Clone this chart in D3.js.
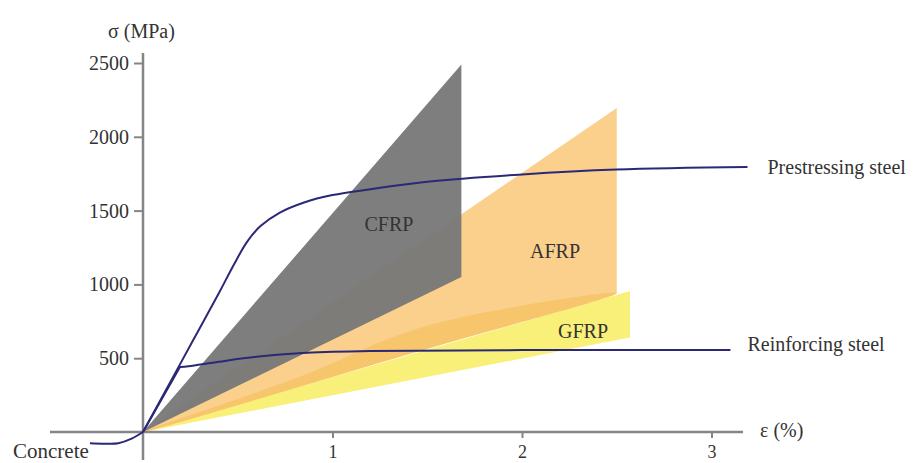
<!DOCTYPE html>
<html>
<head>
<meta charset="utf-8">
<script src="https://cdn.jsdelivr.net/npm/d3@7"></script>
<style>
  html, body { margin: 0; padding: 0; background: #fff; }
  svg { display: block; }
  text { font-family: "Liberation Serif", "DejaVu Serif", serif; fill: #333; }
</style>
</head>
<body>
<svg id="chart"></svg>
<script>
const width = 924;
const height = 463;

// strain (%), stress (MPa)
const prestressing = [[0, 0], [0.2, 470], [0.3, 705], [0.4, 940], [0.48, 1135], [0.55, 1290], [0.62, 1395],
  [0.72, 1485], [0.85, 1555], [1.0, 1605], [1.2, 1645], [1.5, 1695], [2.0, 1745], [2.5, 1778], [3.19, 1795]];
const reinforcing = [[0, 0], [0.195, 440], [0.24, 446], [0.4, 476], [0.6, 510], [0.84, 536], [1.2, 548],
  [2.0, 555], [3.1, 556]];
const concrete = [[-0.28, -76], [-0.2, -79], [-0.13, -76], [-0.06, -45], [0, 0]];

const cfrp = [[0, 0], [1.68, 2490], [1.68, 1050]];
const afrp = [[0, 0], [2.5, 2195], [2.5, 940]];
const afrpShade = [[0, 0], [0.8, 360], [1.5, 720], [2.5, 940], [1.5, 564]];
const gfrp = [[0, 0], [2.57, 955], [2.57, 640]];

const yTicks = [500, 1000, 1500, 2000, 2500];
const xTicks = [1, 2, 3];

const svg = d3.select("#chart")
  .attr("width", width)
  .attr("height", height);

const x = d3.scaleLinear().domain([0, 3]).range([143, 711.5]);
const y = d3.scaleLinear().domain([0, 2500]).range([432, 63]);

const area = d3.line()
  .x(d => x(d[0]))
  .y(d => y(d[1]))
  .curve(d3.curveLinearClosed);

// material zones
svg.append("path").attr("d", area(gfrp)).attr("fill", "#f9f07a");
svg.append("path").attr("d", area(afrp)).attr("fill", "#fbcf8c");
svg.append("path").attr("d", area.curve(d3.curveCatmullRomClosed)(afrpShade)).attr("fill", "#f6c56c");
area.curve(d3.curveLinearClosed);
svg.append("path").attr("d", area(cfrp)).attr("fill", "#777").attr("fill-opacity", 0.95);

// axes
const axisColor = "#858585";
svg.append("line")
  .attr("x1", 50).attr("x2", 743)
  .attr("y1", y(0)).attr("y2", y(0))
  .attr("stroke", axisColor).attr("stroke-width", 2.5);
svg.append("line")
  .attr("x1", x(0)).attr("x2", x(0))
  .attr("y1", 53).attr("y2", 460)
  .attr("stroke", axisColor).attr("stroke-width", 2.5);

const yAxis = svg.append("g")
  .attr("transform", `translate(${x(0)},0)`)
  .call(d3.axisLeft(y).tickValues(yTicks).tickFormat(d3.format("d")).tickSize(9).tickPadding(5));

const xAxis = svg.append("g")
  .attr("transform", `translate(0,${y(0)})`)
  .call(d3.axisBottom(x).tickValues(xTicks).tickFormat(d3.format("d")).tickSize(6).tickPadding(7));

[yAxis, xAxis].forEach(g => {
  g.select(".domain").remove();
  g.selectAll(".tick line").attr("stroke", axisColor).attr("stroke-width", 2);
  g.selectAll(".tick text")
    .style("font-family", "Liberation Serif")
    .style("font-size", "20px")
    .attr("fill", "#333");
});
xAxis.selectAll(".tick text").style("font-size", "18px");

// curves
const smooth = d3.line()
  .x(d => x(d[0]))
  .y(d => y(d[1]))
  .curve(d3.curveCatmullRom.alpha(0.5));

const straight = d3.line()
  .x(d => x(d[0]))
  .y(d => y(d[1]));

[smooth(prestressing), straight(reinforcing.slice(0, 2)) + smooth(reinforcing.slice(1)).replace(/^M/, "L"), smooth(concrete)]
  .forEach(d => {
    svg.append("path")
      .attr("d", d)
      .attr("fill", "none")
      .attr("stroke", "#2b2876")
      .attr("stroke-width", 2);
  });

// labels
const label = (txt, px, py, size, anchor) => svg.append("text")
  .attr("x", px).attr("y", py)
  .attr("text-anchor", anchor || "start")
  .style("font-size", size + "px")
  .text(txt);

label("σ (MPa)", 108, 38, 20);
label("ε (%)", 760, 437, 20);
label("Concrete", 13, 458, 21);
label("Prestressing steel", x(prestressing[prestressing.length - 1][0]) + 20, y(1795) + 7, 20);
label("Reinforcing steel", x(reinforcing[reinforcing.length - 1][0]) + 17, y(556) + 1, 20);
label("CFRP", 389, 231, 20, "middle");
label("AFRP", 555, 258, 20, "middle");
label("GFRP", 583, 338, 20, "middle");
</script>
</body>
</html>
